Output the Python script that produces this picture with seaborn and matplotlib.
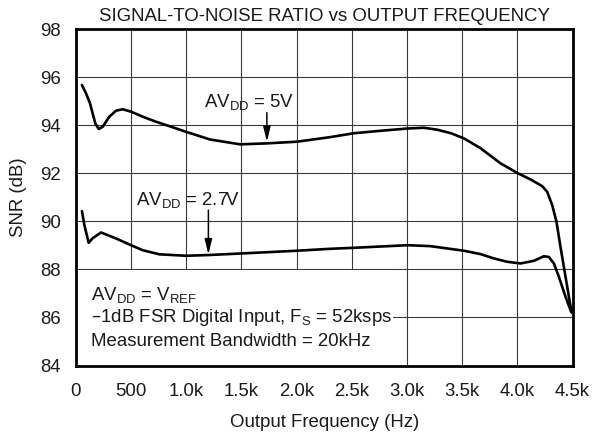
import numpy as np
import pandas as pd
import matplotlib
matplotlib.use("Agg")
import matplotlib.pyplot as plt
from matplotlib.patches import Rectangle
import seaborn as sns

# SNR vs output frequency for two analog supply voltages
freq_5v = [54, 91, 127, 151, 175, 206, 242, 302, 363, 423, 499, 605, 726, 877,
           998, 1216, 1488, 1730, 2003, 2305, 2516, 2750, 3010, 3152, 3273, 3400,
           3515, 3666, 3847, 4007, 4119, 4225, 4271, 4316, 4355, 4391, 4437, 4488, 4497]
snr_5v = [95.68, 95.33, 94.92, 94.50, 94.08, 93.85, 93.94, 94.36, 94.61, 94.67,
          94.57, 94.36, 94.15, 93.92, 93.73, 93.41, 93.21, 93.25, 93.32, 93.51,
          93.67, 93.77, 93.87, 93.90, 93.82, 93.67, 93.46, 93.05, 92.42, 92.00,
          91.75, 91.47, 91.23, 90.68, 89.98, 88.94, 87.69, 86.30, 86.20]

freq_27v = [54, 76, 115, 151, 227, 363, 499, 605, 756, 998, 1200, 1518, 2003,
            2305, 2510, 3010, 3212, 3515, 3666, 3787, 3908, 4029, 4150, 4240,
            4286, 4331, 4377, 4437, 4488, 4497]
snr_27v = [90.43, 89.85, 89.11, 89.30, 89.54, 89.29, 89.01, 88.80, 88.63, 88.57,
           88.60, 88.67, 88.78, 88.86, 88.90, 89.01, 88.97, 88.78, 88.64, 88.46,
           88.32, 88.25, 88.36, 88.55, 88.52, 88.25, 87.69, 86.86, 86.23, 86.20]

x_ticks = [0, 500, 1000, 1500, 2000, 2500, 3000, 3500, 4000, 4500]
x_tick_labels = ["0", "500", "1.0k", "1.5k", "2.0k", "2.5k", "3.0k", "3.5k", "4.0k", "4.5k"]
y_ticks = [84, 86, 88, 90, 92, 94, 96, 98]

df = pd.concat([
    pd.DataFrame({"freq": freq_5v, "snr": snr_5v, "supply": "5V"}),
    pd.DataFrame({"freq": freq_27v, "snr": snr_27v, "supply": "2.7V"}),
])

sns.set_style("white")
plt.rcParams["font.family"] = ["Liberation Sans", "DejaVu Sans"]
plt.rcParams["mathtext.default"] = "regular"

ink = "#1a1a1a"
fs = 13.4
fig = plt.figure(figsize=(5.95, 4.34), dpi=100)
ax = fig.add_axes([0.1277, 0.1578, 0.8345, 0.7747])

ax.set_xlim(0, 4500)
ax.set_ylim(84, 98)

# grid drawn as plain lines so the note box can hide part of it
ax.vlines(x_ticks[1:-1], 84, 98, colors="#3a3a3a", linewidth=0.8, zorder=0.5)
ax.hlines(y_ticks[1:-1], 0, 4500, colors="#3a3a3a", linewidth=0.8, zorder=0.5)

# white note box in the lower left corner
ax.add_patch(Rectangle((0, 84), 2876, 3.96, facecolor="white", edgecolor="none", zorder=1))

sns.lineplot(data=df, x="freq", y="snr", units="supply", estimator=None,
             color="black", linewidth=1.9, sort=False, ax=ax, zorder=3)

ax.set_xticks(x_ticks)
ax.set_xticklabels(x_tick_labels)
ax.set_yticks(y_ticks)
ax.tick_params(direction="in", length=4, width=0.8, color="#3a3a3a",
               labelsize=fs, labelcolor=ink)
ax.tick_params(axis="x", pad=12.5)
ax.tick_params(axis="y", pad=11)

for s in ax.spines.values():
    s.set_visible(True)
    s.set_linewidth(2.0)
    s.set_color("black")

ax.set_xlabel("Output Frequency (Hz)", fontsize=fs, color=ink, labelpad=10)
ax.set_ylabel("SNR (dB)", fontsize=fs, color=ink, labelpad=9)
ax.set_title("SIGNAL-TO-NOISE RATIO vs OUTPUT FREQUENCY", fontsize=fs, color=ink, pad=6)

arrow = dict(arrowstyle="-|>,head_length=0.9,head_width=0.22", color="black",
             lw=1.1, shrinkA=0, shrinkB=0)
ax.annotate("", xy=(1730, 93.32), xytext=(1730, 94.53), arrowprops=arrow, zorder=4)
ax.text(1161, 94.96, "AV$_{DD}$ = 5V", fontsize=fs, color=ink, va="center", ha="left", zorder=4)
ax.annotate("", xy=(1200, 88.63), xytext=(1200, 90.47), arrowprops=arrow, zorder=4)
ax.text(544, 90.89, "AV$_{DD}$ = 2.7V", fontsize=fs, color=ink, va="center", ha="left", zorder=4)

ax.text(133, 86.93, "AV$_{DD}$ = V$_{REF}$", fontsize=fs, color=ink, va="center", ha="left", zorder=4)
ax.text(133, 85.98, "\u20131dB FSR Digital Input, F$_{S}$ = 52ksps", fontsize=fs, color=ink,
        va="center", ha="left", zorder=4)
ax.text(133, 85.02, "Measurement Bandwidth = 20kHz", fontsize=fs, color=ink,
        va="center", ha="left", zorder=4)

fig.savefig("out.png", dpi=100)
